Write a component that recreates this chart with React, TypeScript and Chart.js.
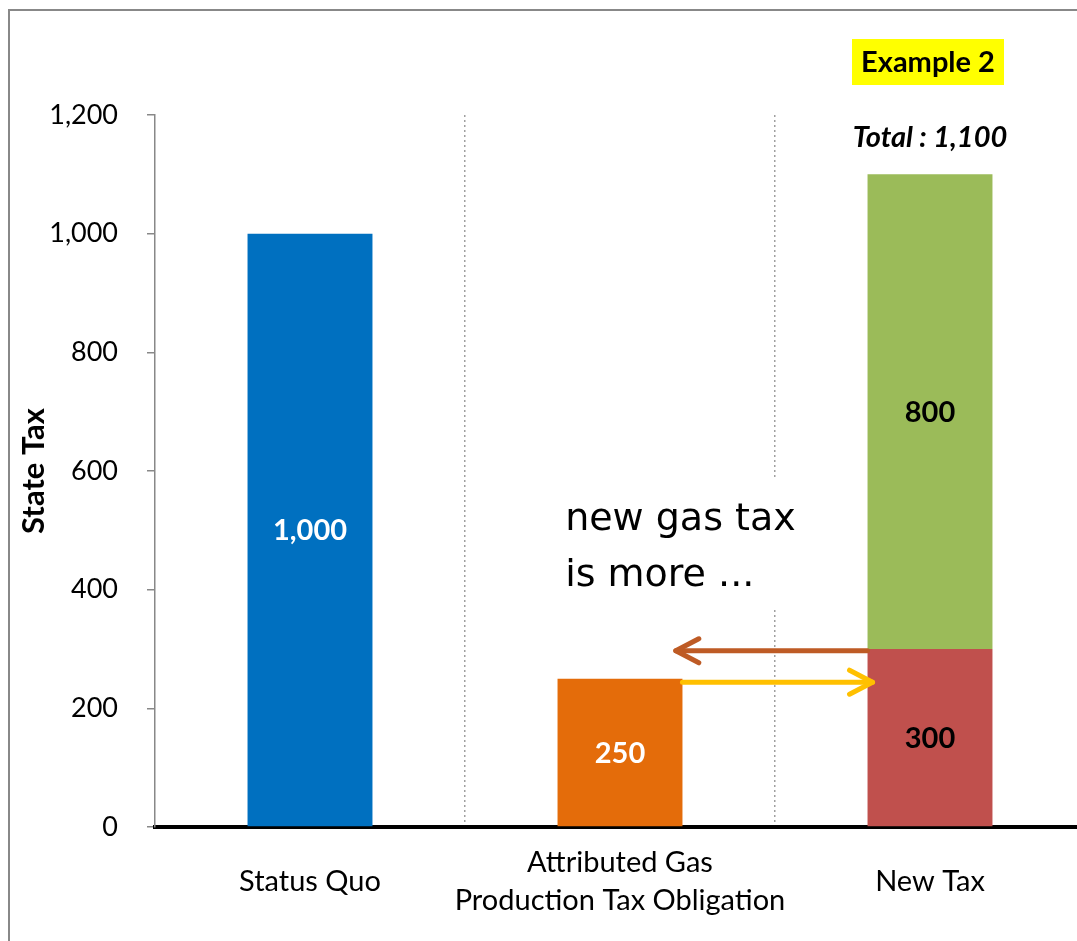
import React, { useEffect, useRef } from 'react';
import { Chart, registerables } from 'chart.js';

Chart.register(...registerables);

const categories: (string | string[])[] = ['Status Quo', ['Attributed Gas', 'Production Tax Obligation'], 'New Tax'];
const baseValues = [1000, 250, 300];
const topValues: (number | null)[] = [null, null, 800];
const baseColors = ['#0070C0', '#E46C0A', '#C0504D'];
const topColor = '#9BBB59';
const baseLabelColors = ['#FFFFFF', '#FFFFFF', '#000000'];
const topLabelColor = '#000000';
const yTicks = [0, 200, 400, 600, 800, 1000, 1200];
const yTitle = 'State Tax';
const badgeText = 'Example 2';
const totalPrefix = 'Total : ';
const noteLines = ['new gas tax', 'is more ...'];
const brownArrowValue = 297;
const yellowArrowValue = 244;

const FONT = 'Lato, "Open Sans", sans-serif';
const NOTE_FONT = '"DejaVu Sans", sans-serif';
const fmt = (v: number) => Number(v).toLocaleString('en-US');

function drawArrow(ctx: CanvasRenderingContext2D, x1: number, x2: number, y: number, color: string) {
  const dir = x2 > x1 ? 1 : -1;
  ctx.save();
  ctx.strokeStyle = color;
  ctx.lineWidth = 5;
  ctx.lineCap = 'round';
  ctx.lineJoin = 'round';
  ctx.beginPath();
  ctx.moveTo(x1, y);
  ctx.lineTo(x2, y);
  ctx.stroke();
  ctx.beginPath();
  ctx.moveTo(x2 - dir * 23, y - 12);
  ctx.lineTo(x2, y);
  ctx.lineTo(x2 - dir * 23, y + 12);
  ctx.stroke();
  ctx.restore();
}

const annotations = {
  id: 'annotations',
  afterDraw(chart: any) {
    const ctx: CanvasRenderingContext2D = chart.ctx;
    const xs = chart.scales.x;
    const ys = chart.scales.y;
    const m0 = chart.getDatasetMeta(0);
    const m1 = chart.getDatasetMeta(1);
    ctx.save();
    ctx.textAlign = 'center';
    ctx.textBaseline = 'middle';
    ctx.font = `bold 29px ${FONT}`;
    m0.data.forEach((el: any, i: number) => {
      const p = el.getProps(['x', 'y', 'base'], true);
      ctx.fillStyle = baseLabelColors[i];
      ctx.fillText(fmt(baseValues[i]), p.x, (p.y + p.base) / 2 + 1);
    });
    m1.data.forEach((el: any, i: number) => {
      const v = topValues[i];
      if (v == null) return;
      const p = el.getProps(['x', 'y', 'base'], true);
      ctx.fillStyle = topLabelColor;
      ctx.fillText(fmt(v), p.x, (p.y + p.base) / 2 + 1);
    });

    // total + badge over the stacked bar
    const idx = 2;
    const total = baseValues[idx] + (topValues[idx] || 0);
    const el = m0.data[idx].getProps(['x', 'width'], true);
    ctx.font = `italic bold 29px ${FONT}`;
    ctx.fillStyle = '#000';
    ctx.fillText(totalPrefix + fmt(total), el.x, ys.getPixelForValue(total) - 37);

    ctx.fillStyle = '#FFFF00';
    ctx.fillRect(el.x - 2 - 76, 51 - 23, 152, 46);
    ctx.fillStyle = '#000';
    ctx.font = `bold 29px ${FONT}`;
    ctx.fillText(badgeText, el.x - 2, 52);

    // note box
    const bx1 = xs.getPixelForValue(0.774);
    const bx2 = xs.getPixelForValue(1.58);
    const by1 = ys.getPixelForValue(588);
    const by2 = ys.getPixelForValue(366);
    ctx.fillStyle = '#FFFFFF';
    ctx.fillRect(bx1, by1, bx2 - bx1, by2 - by1);
    ctx.textAlign = 'left';
    ctx.fillStyle = '#000';
    ctx.font = `38px ${NOTE_FONT}`;
    const tx = xs.getPixelForValue(0.823);
    ctx.fillText(noteLines[0], tx, ys.getPixelForValue(517));
    ctx.fillText(noteLines[1], tx, ys.getPixelForValue(423));
    ctx.restore();

    // arrows
    const orange = m0.data[1].getProps(['x', 'width'], true);
    const red = m0.data[2].getProps(['x', 'width'], true);
    drawArrow(ctx, red.x - red.width / 2, xs.getPixelForValue(1.18), ys.getPixelForValue(brownArrowValue), '#BE5B25');
    drawArrow(ctx, orange.x + orange.width / 2, red.x - red.width / 2 + 5, ys.getPixelForValue(yellowArrowValue), '#FFC000');
  },
};

export default function App() {
  const ref = useRef<HTMLCanvasElement | null>(null);
  useEffect(() => {
    document.documentElement.style.overflow = 'hidden';
    document.body.style.overflow = 'hidden';
    if (!ref.current) return;
    const chart = new Chart(ref.current, {
      type: 'bar',
      data: {
        labels: categories as any,
        datasets: [
          { data: baseValues, backgroundColor: baseColors, stack: 's', barPercentage: 0.403, categoryPercentage: 1 },
          { data: topValues as any, backgroundColor: topColor, stack: 's', barPercentage: 0.403, categoryPercentage: 1 },
        ],
      },
      options: {
        responsive: false,
        animation: false,
        devicePixelRatio: 1,
        layout: { padding: { top: 104, right: 25, bottom: 14, left: 0 } },
        plugins: { legend: { display: false }, tooltip: { enabled: false } },
        scales: {
          x: {
            stacked: true,
            z: 1,
            offset: true,
            grid: {
              offset: true,
              color: (c: any) => (c.index === 0 ? 'rgba(0,0,0,0)' : '#A0A0A0'),
              lineWidth: 1.5,
              drawTicks: false,
            },
            border: { display: true, color: '#000000', width: 4, dash: [2, 3] },
            ticks: {
              color: '#000',
              font: { family: FONT, size: 29, lineHeight: 1.31 },
              padding: 36,
              maxRotation: 0,
              autoSkip: false,
              crossAlign: 'center',
            } as any,
            afterFit: (s: any) => { s.height = 100; },
          },
          y: {
            stacked: true,
            min: 0,
            max: 1200,
            afterBuildTicks: (s: any) => { s.ticks = yTicks.map((v) => ({ value: v })); },
            ticks: { color: '#000', font: { family: FONT, size: 27 }, padding: 29, callback: (v: any) => fmt(v) },
            grid: { drawOnChartArea: false, drawTicks: true, tickLength: 8, color: '#888888', lineWidth: 1.5 },
            border: { display: true, color: '#888888', width: 1.5 },
            title: {
              display: true,
              text: yTitle,
              color: '#000',
              font: { family: FONT, size: 31, weight: 'bold' },
              padding: { top: 5, bottom: 0 },
            },
            afterFit: (s: any) => { s.width = 145; },
          },
        },
      },
      plugins: [annotations],
    });
    return () => chart.destroy();
  }, []);

  return (
    <div style={{ position: 'fixed', left: 0, top: 0, width: 1077, height: 941, overflow: 'hidden', background: '#FFFFFF' }}>
      <div
        style={{
          position: 'absolute',
          left: 8,
          top: 9,
          width: 1120,
          height: 960,
          border: '2px solid #888888',
          boxSizing: 'border-box',
          background: '#FFFFFF',
        }}
      >
        <canvas ref={ref} width={1100} height={930} style={{ position: 'absolute', left: 0, top: 0, width: 1100, height: 930 }} />
      </div>
    </div>
  );
}
